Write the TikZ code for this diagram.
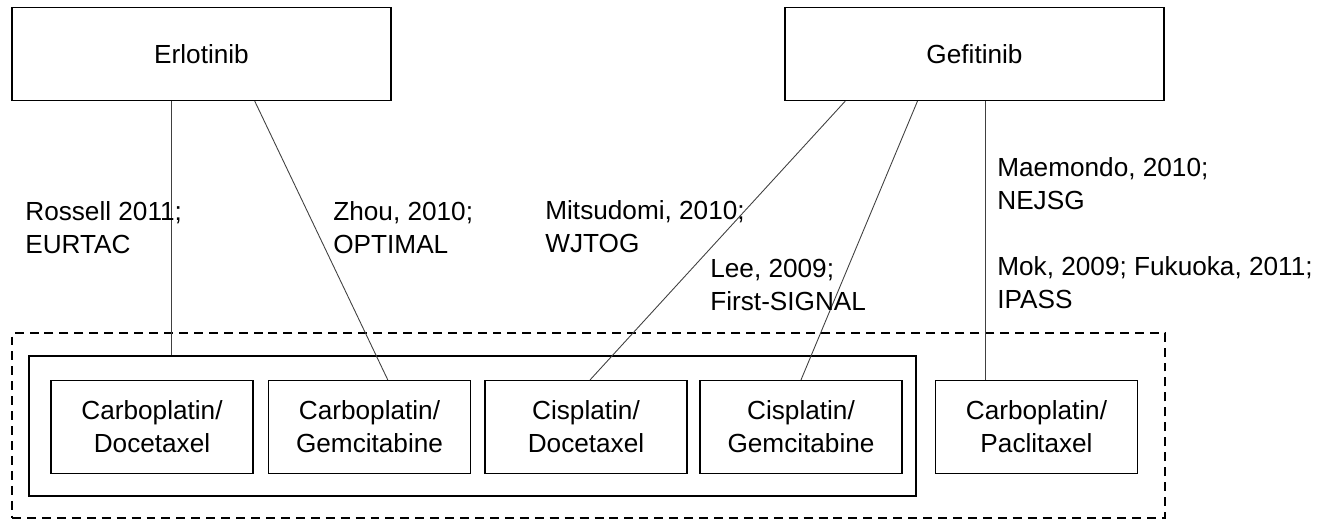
\documentclass[tikz,border=0pt]{standalone}
\usepackage{fontspec}
\setmainfont{Liberation Sans}
\usetikzlibrary{calc}

\tikzset{
  drugbox/.style={draw, line width=0.7pt, minimum width=7.58cm, minimum height=1.86cm, inner sep=0pt},
  regimen/.style={draw, line width=0.7pt, minimum width=4.04cm, minimum height=1.86cm, align=center, inner sep=0pt},
  trial/.style={anchor=west, align=left, inner sep=0pt},
  link/.style={line width=0.5pt, black!75}
}

\begin{document}
\begin{tikzpicture}[x=0.02cm, y=-0.02cm, font=\fontsize{14.9}{18.8}\selectfont]
  \useasboundingbox (0,0) rectangle (1318,520);

  % Outer dashed group and inner solid group
  \node[draw, dash pattern=on 5.1pt off 3.4pt, line width=1.1pt, minimum width=23.06cm, minimum height=3.7cm] (allchemo) at (588.5,425.5) {};
  \node[draw, line width=1.6pt, minimum width=17.74cm, minimum height=2.8cm] (platdoub) at (472.5,426) {};

  % Drugs on top
  \node[drugbox] (erl) at (201.5,54) {Erlotinib};
  \node[drugbox] (gef) at (974.5,54) {Gefitinib};

  % Chemotherapy regimens
  \node[regimen] (cbdoc) at (152,427) {Carboplatin/\\Docetaxel};
  \node[regimen] (cbgem) at (369.5,427) {Carboplatin/\\Gemcitabine};
  \node[regimen] (cisdoc) at (586,427) {Cisplatin/\\Docetaxel};
  \node[regimen] (cisgem) at (801,427) {Cisplatin/\\Gemcitabine};
  \node[regimen] (cbpac) at (1036.5,427) {Carboplatin/\\Paclitaxel};

  % Erlotinib trials
  \coordinate (erlA) at ($(erl.south west)!0.42!(erl.south east)$);
  \draw[link] (erlA) -- (erlA |- platdoub.north);
  \draw[link] ($(erl.south west)!0.64!(erl.south east)$) -- ($(cbgem.north west)!0.59!(cbgem.north east)$);

  % Gefitinib trials
  \coordinate (gefC) at ($(gef.south west)!0.53!(gef.south east)$);
  \draw[link] ($(gef.south west)!0.16!(gef.south east)$) -- ($(cisdoc.north west)!0.52!(cisdoc.north east)$);
  \draw[link] ($(gef.south west)!0.35!(gef.south east)$) -- ($(cisgem.north west)!0.50!(cisgem.north east)$);
  \draw[link] (gefC) -- (gefC |- cbpac.north);

  % Trial labels
  \node[trial] (rossell) at (25,228) {Rossell 2011;\\EURTAC};
  \node[trial] (zhou) at (333,228) {Zhou, 2010;\\OPTIMAL};
  \node[trial] (mitsudomi) at (545,227) {Mitsudomi, 2010;\\WJTOG};
  \node[trial] (lee) at (710,285) {Lee, 2009;\\First-SIGNAL};
  \node[trial] (maemondo) at (997,184) {Maemondo, 2010;\\NEJSG};
  \node[trial] (mok) at (997,283) {Mok, 2009; Fukuoka, 2011;\\IPASS};
\end{tikzpicture}
\end{document}
